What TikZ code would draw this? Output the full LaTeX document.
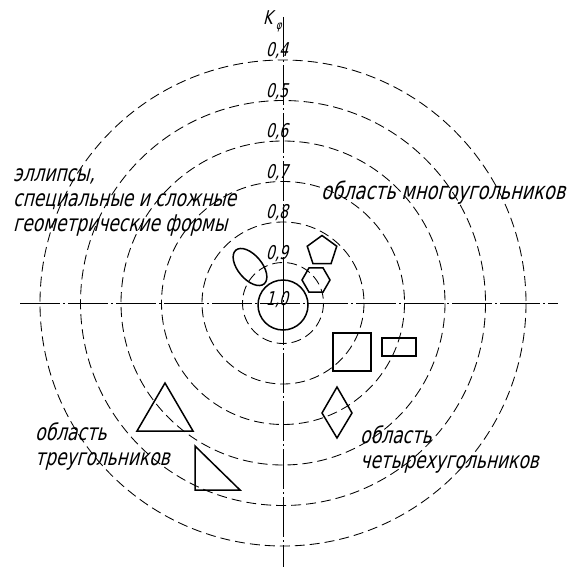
\documentclass[tikz,border=0pt]{standalone}
\usepackage{fontspec}
\newfontfamily\gost{DejaVu Sans}[FakeSlant=0.25, FakeStretch=0.74]
\usetikzlibrary{shapes.geometric}

\begin{document}
\begin{tikzpicture}[x=1pt, y=-1pt,
  ring/.style={dash pattern=on 10pt off 5pt, line width=0.85pt},
  axisln/.style={dash pattern=on 40pt off 3pt on 2pt off 3pt, line width=1pt},
  fig/.style={draw, line width=1.5pt, inner sep=0pt},
  txt/.style={font=\gost\fontsize{23}{25}\selectfont, inner sep=0pt, align=left},
  num/.style={font=\gost\fontsize{19}{19}\selectfont, inner sep=0pt}
]
\useasboundingbox (0,0) rectangle (569,567);
\coordinate (o) at (283,303);

% axes
\coordinate (xl) at (20,303);
\coordinate (xr) at (558,303);
\coordinate (yt) at (283,17);
\coordinate (yb) at (283,567);
\draw[axisln] (xl) -- (xr);
\draw[axisln] (yt) -- (yb);
\node[num, anchor=east] (kphi) at (282,21) {K\kern3.5pt\lower5pt\hbox{\fontsize{12}{12}\selectfont φ}};

% levels of K
\foreach \k in {1,...,6}
  \draw[ring] (o) circle [radius=40.5*\k];
\foreach \k/\v in {1/{0,9},2/{0,8},3/{0,7},4/{0,6},5/{0,5},6/{0,4}}
  \node[num] (v\k) at (277,{294-40.5*\k}) {\v};
\node[num] (v0) at (277,300) {1,0};

% shapes
\node[fig, circle, minimum size=50pt] (circ) at (283,305) {};
\node[fig, ellipse, rotate=-50, minimum width=44pt, minimum height=24pt] (ell) at (250,267) {};
\node[fig, regular polygon, regular polygon sides=5, minimum size=31pt] (penta) at (322,251) {};
\node[fig, regular polygon, regular polygon sides=6, minimum size=28pt] (hexa) at (316,280) {};
\node[fig, minimum size=38pt] (sq) at (352,352) {};
\node[fig, minimum width=34pt, minimum height=18pt] (rect) at (399,347) {};
\draw[fig] (322,413) -- (337,387) -- (352,413) -- (337,438) -- cycle;
\draw[fig] (137,431) -- (165,383) -- (193,431) -- cycle;
\draw[fig] (195,446) -- (195,490) -- (240,490) -- cycle;

% regions
\node[txt, anchor=north west] (ellt) at (13,168) {эллипсы,\\специальные и сложные\\геометрические формы};
\node[txt, anchor=west, font=\gost\fontsize{24}{25}\selectfont] (polyt) at (321,193) {область многоугольников};
\node[txt, anchor=north west] (trit) at (35,422) {область\\треугольников};
\node[txt, anchor=north west] (quadt) at (360,425) {область\\четырехугольников};
\end{tikzpicture}
\end{document}
